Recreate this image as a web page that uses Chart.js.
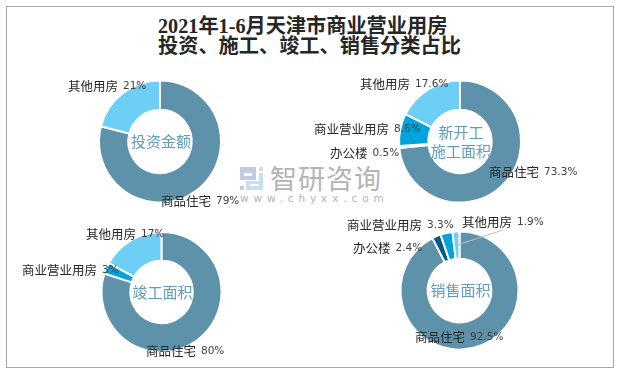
<!DOCTYPE html>
<html>
<head>
<meta charset="utf-8">
<script src="https://cdn.jsdelivr.net/npm/chart.js@4"></script>
<style>
html, body { margin: 0; padding: 0; background: #fff; }
#frame { position: absolute; left: 6px; top: 6px; width: 606px; height: 360px; border: 1px solid #a6a6a6; }
#title { position: absolute; left: 158px; top: 16px; white-space: nowrap; font: bold 20.2px/20px "Liberation Serif", "Noto Sans CJK SC"; color: #262626; }
canvas { position: absolute; left: 0; top: 0; }
.wm { position: absolute; color: #b4b4b4; font-family: "Noto Sans CJK SC"; }
#logo { position: absolute; left: 240px; top: 167px; width: 23px; height: 24px; }
#logo div { position: absolute; }
</style>
</head>
<body>
<div id="frame"></div>
<div id="title">2021年1-6月天津市商业营业用房<br>投资、施工、竣工、销售分类占比</div>
<div id="logo">
  <div style="left:0;top:0;width:16px;height:6px;background:#c3cbdd"></div>
  <div style="left:12px;top:0;width:4px;height:13px;background:#c3cbdd"></div>
  <div style="left:0;top:9px;width:16px;height:4px;background:#c3cbdd"></div>
  <div style="left:0;top:0;width:4px;height:13px;background:#c3cbdd"></div>
  <div style="left:0;top:19px;width:4px;height:4px;background:#c3cbdd"></div>
  <div style="left:19px;top:0;width:4px;height:4px;background:#c5e0f2"></div>
  <div style="left:19px;top:6px;width:4px;height:17px;background:#c5e0f2"></div>
  <div style="left:6px;top:14px;width:4px;height:9px;background:#c5e0f2"></div>
  <div style="left:6px;top:14px;width:17px;height:3px;background:#c5e0f2"></div>
  <div style="left:6px;top:19px;width:17px;height:4px;background:#c5e0f2"></div>
</div>
<div class="wm" style="left:270px;top:160px;font-size:27px;line-height:36px;letter-spacing:1px">智研咨询</div>
<div class="wm" style="left:240px;top:191px;font-size:10.5px;line-height:14px;letter-spacing:4.9px;white-space:nowrap;font-family:'DejaVu Sans'">www.chyxx.com</div>
<canvas id="c1"></canvas>
<canvas id="c2"></canvas>
<canvas id="c3"></canvas>
<canvas id="c4"></canvas>
<script>
// names per chart
var names1 = ["商品住宅", "其他用房"];
var values1 = [79, 21];
var names2 = ["商品住宅", "办公楼", "商业营业用房", "其他用房"];
var values2 = [73.3, 0.5, 8.6, 17.6];
var names3 = ["商品住宅", "商业营业用房", "其他用房"];
var values3 = [80, 3, 17];
var names4 = ["商品住宅", "办公楼", "商业营业用房", "其他用房"];
var values4 = [92.5, 2.4, 3.3, 1.9];

var centerText1 = ["投资金额"];
var centerText2 = ["新开工", "施工面积"];
var centerText3 = ["竣工面积"];
var centerText4 = ["销售面积"];

//colors by type
function colorchooser(name) {
    if (name == "商品住宅") { return "#5e92aa"; }
    else if (name == "其他用房") { return "#6dcff6"; }
    else if (name == "商业营业用房") { return "#00a4dc"; }
    else if (name == "办公楼") { return "#005c80"; }
}

//draws center text and the slice labels, positions are page coords
var labelPlugin = {
    id: "labelPlugin",
    afterDraw: function(chart, args, opts) {
        var ctx = chart.ctx;
        var arc = chart.getDatasetMeta(0).data[0];
        ctx.save();
        ctx.translate(-opts.box[0], -opts.box[1]);
        ctx.textBaseline = "middle";
        ctx.textAlign = "center";
        ctx.fillStyle = "#5e9dbb";
        ctx.font = '15px "Noto Sans CJK SC"';
        opts.center.forEach(function(line, i) {
            var y = arc.y + opts.box[1] + (i - (opts.center.length - 1) / 2) * 19;
            ctx.fillText(line, arc.x + opts.box[0] + 1, y);
        });
        if (opts.leader) {
            ctx.strokeStyle = "#bfbfbf";
            ctx.lineWidth = 1;
            ctx.beginPath();
            ctx.moveTo(opts.leader[0], opts.leader[1]);
            ctx.lineTo(opts.leader[2], opts.leader[3]);
            ctx.stroke();
        }
        ctx.textAlign = "left";
        var values = chart.data.datasets[0].data;
        chart.data.labels.forEach(function(name, i) {
            var pos = opts.pos[i];
            ctx.fillStyle = "#262626";
            ctx.font = '12.5px "Noto Sans CJK SC"';
            ctx.fillText(name, pos[0], pos[1]);
            var w = ctx.measureText(name).width;
            ctx.fillStyle = "#404040";
            ctx.font = '10.5px "DejaVu Sans"';
            ctx.fillText(values[i] + "%", pos[0] + w + 5, pos[1] + 0.5);
        });
        ctx.restore();
    }
};

function makeDonut(id, labels, values, center, pos, box, cutout, leader) {
    var el = document.getElementById(id);
    el.style.left = box[0] + "px";
    el.style.top = box[1] + "px";
    el.width = box[2];
    el.height = box[3];
    return new Chart(el, {
        type: "doughnut",
        data: {
            labels: labels,
            datasets: [{
                data: values,
                backgroundColor: labels.map(colorchooser),
                borderColor: "#ffffff",
                borderWidth: 2
            }]
        },
        options: {
            responsive: false,
            animation: false,
            cutout: cutout,
            radius: box[4],
            layout: { padding: 0 },
            plugins: {
                legend: { display: false },
                tooltip: { enabled: false },
                labelPlugin: { center: center, pos: pos, leader: leader, box: box }
            }
        },
        plugins: [labelPlugin]
    });
}

//box is left, top, width, height, radius
makeDonut("c1", names1, values1, centerText1,
    [[161, 201], [68, 86]],
    [10, 64, 300, 155, 61], "52%");
makeDonut("c2", names2, values2, centerText2,
    [[489, 172], [330, 153], [314, 129], [360, 84]],
    [310, 64, 300, 155, 61], "52%");
makeDonut("c3", names3, values3, centerText3,
    [[146, 351], [22, 270], [86, 234]],
    [10, 222, 303, 140, 60], "52%");
makeDonut("c4", names4, values4, centerText4,
    [[415, 337], [353, 248], [347, 225], [462, 222]],
    [310, 215, 299, 151, 59], "54%",
    [503, 230, 457, 245]);
</script>
</body>
</html>
